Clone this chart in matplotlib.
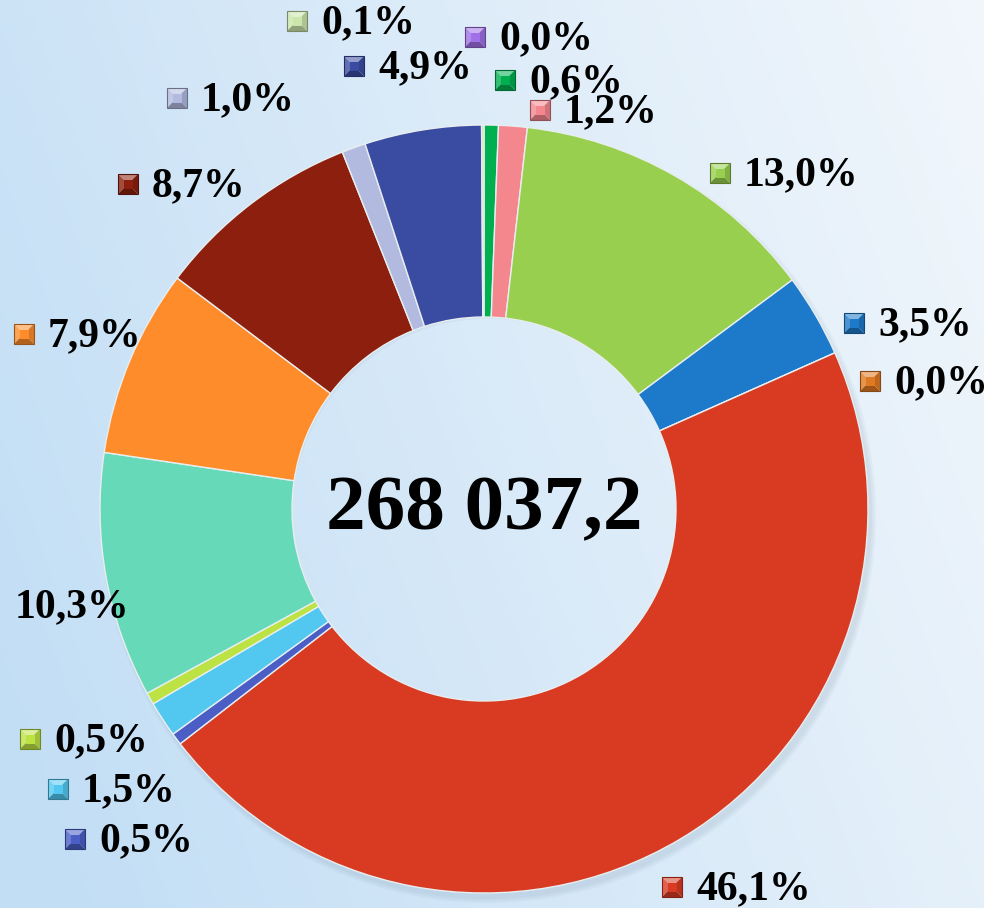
import matplotlib

matplotlib.use("Agg")

import matplotlib.pyplot as plt
import numpy as np
from matplotlib.colors import to_rgb
from matplotlib.patches import Polygon, Wedge

# slices, clockwise from 12 o'clock
shares = [0.0, 0.6, 1.2, 13.0, 3.5, 0.0, 46.1, 0.5, 1.5, 0.5, 10.3, 7.9, 8.7, 1.0, 4.9, 0.1]
labels = ["0,0%", "0,6%", "1,2%", "13,0%", "3,5%", "0,0%", "46,1%", "0,5%",
          "1,5%", "0,5%", "10,3%", "7,9%", "8,7%", "1,0%", "4,9%", "0,1%"]
total_label = "268 037,2"

colors = ["#a070e8", "#00b050", "#f4868e", "#98cf4e", "#1d79c9", "#e07a22",
          "#d83b22", "#4a5ec6", "#52c8f0", "#bce244", "#66d9b9", "#ff8c2a",
          "#8c1f0e", "#b2badf", "#3a4ca2", "#cbe6aa"]

# label anchor (marker centre) in pixels, None = no marker
label_pos = [(475, 37), (505, 80), (540, 110), (720, 173), (854, 323), (870, 381),
             (672, 887), (75, 839), (58, 789), (30, 739), (None, 607), (24, 334),
             (128, 184), (177, 98), (354, 66), (297, 21)]

W, H = 984, 908
fig = plt.figure(figsize=(W / 100, H / 100), dpi=100)
ax = fig.add_axes([0, 0, 1, 1])

# background gradient: light blue on the left, near white on the right
gx = np.linspace(0, 1, 256)
gy = np.linspace(0, 1, 256)
GX, GY = np.meshgrid(gx, gy)
t = np.clip(0.75 * GX + 0.25 * (1 - GY) - 0.05, 0, 1)
left = np.array(to_rgb("#c2def5"))
right = np.array(to_rgb("#f4f8fc"))
bg = left[None, None, :] * (1 - t[..., None]) + right[None, None, :] * t[..., None]
ax.imshow(bg, extent=[0, W, H, 0], aspect="auto", zorder=0)

cx, cy, R = 484, 509, 384

# soft shadow under the ring
for k in range(3):
    sh = Wedge((cx + 4, cy + 6), R + 4 - 2 * k, 0, 360, width=R * 0.5 - 4,
               facecolor="#5a7890", edgecolor="none", alpha=0.05, zorder=1)
    ax.add_patch(sh)

# y axis runs downwards, so the pie is drawn counterclockwise from -90 in data terms
wedges, _ = ax.pie(shares, colors=colors, startangle=-90, counterclock=True,
                   center=(cx, cy), radius=R, frame=True,
                   wedgeprops=dict(width=R * 0.5, edgecolor="#e8eef0", linewidth=1.0))
for w in wedges:
    w.set_zorder(2)
ax.set_xlim(0, W)
ax.set_ylim(H, 0)
ax.set_aspect("auto")
ax.axis("off")

ax.text(cx, cy + 2, total_label, ha="center", va="center", fontsize=57,
        fontweight="bold", family="Liberation Serif", zorder=5)


def shade(c, f):
    r = np.array(to_rgb(c))
    if f > 0:
        return tuple(r + (1 - r) * f)
    return tuple(r * (1 + f))


def bevel_square(x, y, c, s=10):
    # small legend key with a pyramid bevel
    x0, x1, y0, y1 = x - s, x + s, y - s, y + s
    tris = [([(x0, y0), (x1, y0), (x, y)], shade(c, 0.45)),
            ([(x0, y0), (x0, y1), (x, y)], shade(c, 0.2)),
            ([(x1, y0), (x1, y1), (x, y)], shade(c, -0.15)),
            ([(x0, y1), (x1, y1), (x, y)], shade(c, -0.3))]
    for pts, fc in tris:
        ax.add_patch(Polygon(pts, closed=True, facecolor=fc, edgecolor="none", zorder=4))
    i = s * 0.45
    ax.add_patch(Polygon([(x - i, y - i), (x + i, y - i), (x + i, y + i), (x - i, y + i)],
                         closed=True, facecolor=c, edgecolor="none", zorder=4))
    ax.add_patch(Polygon([(x0, y0), (x1, y0), (x1, y1), (x0, y1)], closed=True,
                         facecolor="none", edgecolor=shade(c, -0.4), linewidth=0.8, zorder=4))


for (px, py), lab, col in zip(label_pos, labels, colors):
    if px is None:
        ax.text(15, py, lab, ha="left", va="center", fontsize=30, fontweight="bold",
                family="Liberation Serif", zorder=5)
        continue
    bevel_square(px, py, col)
    ax.text(px + 24, py + 2, lab, ha="left", va="center", fontsize=30, fontweight="bold",
            family="Liberation Serif", zorder=5)

fig.savefig("out.png", dpi=100)
